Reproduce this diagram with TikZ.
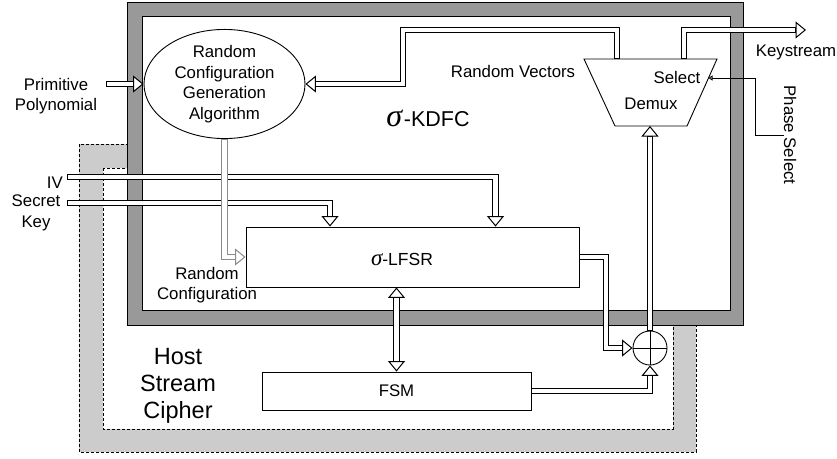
\documentclass[tikz,border=0pt]{standalone}
\usepackage{fontspec}
\setmainfont{Liberation Sans}
\newfontfamily\serifit{Liberation Serif}
\usetikzlibrary{arrows.meta,shapes.geometric,calc}
\begin{document}
\begin{tikzpicture}[x=1pt,y=-1pt,
  txt/.style={font=\fontsize{16.8}{20.5}\selectfont, align=center, inner sep=0pt},
  big/.style={font=\fontsize{23.5}{27}\selectfont, align=center, inner sep=0pt},
  box/.style={draw, line width=0.9pt, fill=white, inner sep=0pt},
  dbl/.style={draw=black, line width=6.2pt, line join=miter,
    -{Triangle[length=10.5pt 0 0, width=17pt 0 0, line width=1pt 0 0, fill=white]},
    postaction={draw=white, line width=4.2pt, arrows=-, shorten <=1pt, shorten >=11pt}},
  dblboth/.style={draw=black, line width=6.2pt, line join=miter,
    {Triangle[length=10.5pt 0 0, width=17pt 0 0, line width=1pt 0 0, fill=white]}-{Triangle[length=10.5pt 0 0, width=17pt 0 0, line width=1pt 0 0, fill=white]},
    postaction={draw=white, line width=4.2pt, arrows=-, shorten <=11pt, shorten >=11pt}},
  dblgray/.style={dbl, draw=black!45},
  thinarrow/.style={draw, line width=0.8pt, -{Triangle[open, length=4pt, width=5pt]}},
  frame/.style={draw, line width=1pt}
]
\useasboundingbox (0,0) rectangle (837,458);

% host stream cipher frame (light, dashed)
\draw[frame, dash pattern=on 3pt off 2pt, fill=black!20, even odd rule]
  (79,144) rectangle (696,452) (103,168) rectangle (673,429);
% sigma-KDFC frame (dark)
\draw[frame, fill=black!40] (127,2) rectangle (743,325);
\draw[frame, fill=white] (142,16) rectangle (730,310);

% nodes
\node[ellipse, draw, line width=0.9pt, fill=white, minimum width=161pt, minimum height=108pt, txt]
  (rcga) at (224.5,84) {Random\\Configuration\\Generation\\Algorithm};
\node[box, minimum width=333pt, minimum height=60pt] (lfsr) at (412.5,257) {};
\node[inner sep=0pt] (lfsrlbl) at (402,259)
  {{\serifit\itshape\fontsize{23}{23}\selectfont σ}{\fontsize{17.5}{17.5}\selectfont -LFSR}};
\node[box, minimum width=269pt, minimum height=38pt, txt] (fsm) at (396.5,391) {FSM};
\node[circle, draw, line width=0.9pt, fill=white, minimum size=34pt, inner sep=0pt] (xor) at (650,348) {};
\draw[line width=0.9pt] (xor.north) -- (xor.south) (xor.west) -- (xor.east);

% demux
\coordinate (dmxTL) at (584,59);
\coordinate (dmxTR) at (717,59);
\coordinate (dmxBR) at (687,126);
\coordinate (dmxBL) at (615,126);
\draw[line width=0.9pt, fill=white] (dmxTL) -- (dmxTR) -- (dmxBR) -- (dmxBL) -- cycle;
\coordinate (dmxV) at (617,59);
\coordinate (dmxK) at (684,59);
\coordinate (dmxB) at (650,126);
\coordinate (dmxS) at (708.5,78);
\node[txt] (sel) at (677,77) {Select};
\node[txt] (dmx) at (651,104) {Demux};

% labels
\node[txt] (pplbl) at (56,96) {Primitive\\Polynomial};
\node[txt, anchor=east] (ivlbl) at (63,183) {IV};
\node[txt] (sklbl) at (36,213) {Secret\\Key};
\node[txt] (rvlbl) at (513,71) {Random Vectors};
\node[inner sep=0pt] (kdfc) at (428,118)
  {{\serifit\itshape\fontsize{32}{32}\selectfont σ}\,{\fontsize{21.5}{21.5}\selectfont -KDFC}};
\node[txt] (kslbl) at (796,52) {Keystream};
\node[txt, rotate=-90] (ps) at (790,135) {Phase Select};
\node[txt] (rclbl) at (207,285) {Random\\Configuration};
\node[big] (hsc) at (178,386) {Host\\Stream\\Cipher};

% free ends
\coordinate (ppin) at (106,84);
\coordinate (ivin) at (67,177);
\coordinate (skin) at (67,203);
\coordinate (rvA) at (403,30);
\coordinate (ksout) at (806,30);
\coordinate (psc) at (755,135);
\coordinate (lx) at (606,257);

% connectors
\draw[dbl] (ppin) -- (rcga.west);
\draw[dbl] (dmxV) |- (rvA) |- (rcga.east);
\draw[dbl] (dmxK) |- (ksout);
\draw[thinarrow] (ps.south) -- (psc) |- (dmxS);
\draw[dbl] (ivin) -| ([xshift=83pt]lfsr.north);
\draw[dbl] (skin) -| ([xshift=-82.5pt]lfsr.north);
\draw[dblgray] (rcga.south) |- (lfsr.west);
\draw[dbl] (lfsr.east) -- (lx) |- (xor.west);
\draw[dbl] (fsm.east) -| (xor.south);
\draw[dbl] (xor.north) -- (dmxB);
\draw[dblboth] (fsm.north |- lfsr.south) -- (fsm.north);
\end{tikzpicture}
\end{document}
